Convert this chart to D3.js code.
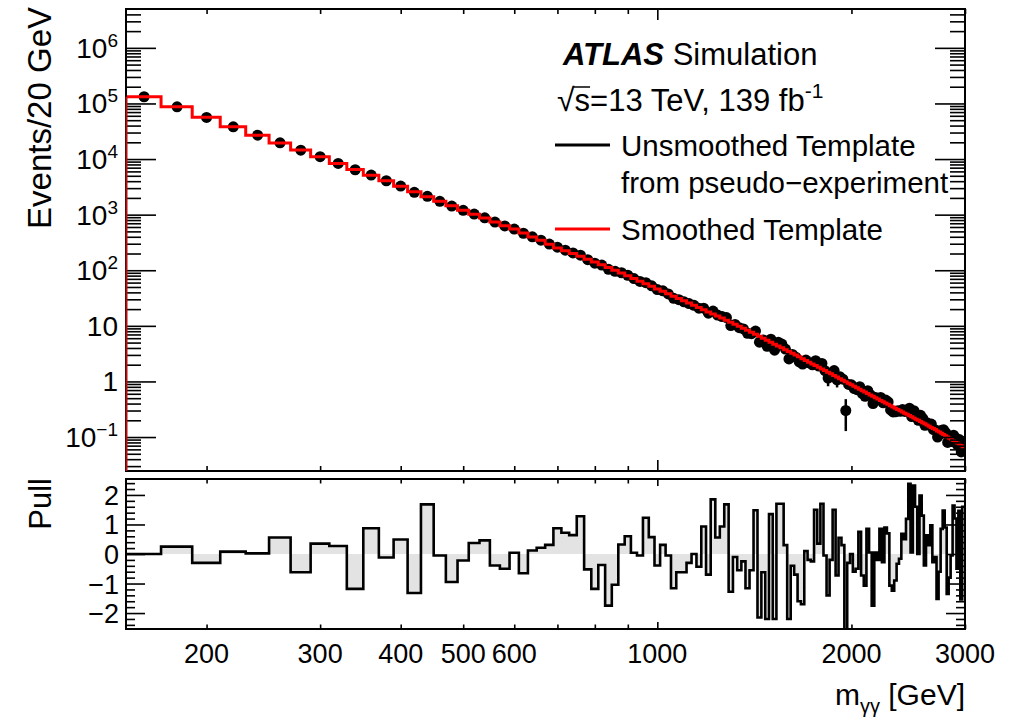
<!DOCTYPE html>
<html>
<head>
<meta charset="utf-8">
<script src="https://cdn.jsdelivr.net/npm/d3@7/dist/d3.min.js"></script>
<style>
    * { margin: 0; padding: 0; }
    body { background: #fff; }
    svg { display: block; font-family: "Liberation Sans", Arial, Helvetica, sans-serif; }
</style>
</head>
<body>
<svg id="chart" width="1018" height="717"></svg>
<script>
// lower bin edges in GeV, each bin is 20 GeV wide
var binLo = [
    150, 170, 190, 210, 230, 250, 270, 290, 310, 330,
    350, 370, 390, 410, 430, 450, 470, 490, 510, 530,
    550, 570, 590, 610, 630, 650, 670, 690, 710, 730,
    750, 770, 790, 810, 830, 850, 870, 890, 910, 930,
    950, 970, 990, 1010, 1030, 1050, 1070, 1090, 1110, 1130,
    1150, 1170, 1190, 1210, 1230, 1250, 1270, 1290, 1310, 1330,
    1350, 1370, 1390, 1410, 1430, 1450, 1470, 1490, 1510, 1530,
    1550, 1570, 1590, 1610, 1630, 1650, 1670, 1690, 1710, 1730,
    1750, 1770, 1790, 1810, 1830, 1850, 1870, 1890, 1910, 1930,
    1950, 1970, 1990, 2010, 2030, 2050, 2070, 2090, 2110, 2130,
    2150, 2170, 2190, 2210, 2230, 2250, 2270, 2290, 2310, 2330,
    2350, 2370, 2390, 2410, 2430, 2450, 2470, 2490, 2510, 2530,
    2550, 2570, 2590, 2610, 2630, 2650, 2670, 2690, 2710, 2730,
    2750, 2770, 2790, 2810, 2830, 2850, 2870, 2890, 2910, 2930,
    2950, 2970
];
var binWidth = 20;

// smoothed template, events per bin
var smoothed = [
    132000, 87100, 56200, 38000, 26900, 19500, 14500, 11000, 8320, 6460,
    5130, 4070, 3240, 2570, 2090, 1740, 1450, 1200, 1020, 871,
    741, 631, 550, 468, 398, 347, 295, 251, 224, 200,
    178, 158, 141, 126, 112, 100, 89.1, 79.4, 70.8, 63.1,
    56.9, 51.3, 46.2, 41.7, 37.6, 33.9, 30.9, 28.2, 25.7, 23.4,
    21.4, 19.5, 17.8, 16.3, 15.0, 13.8, 12.6, 11.6, 10.7, 9.79,
    9.02, 8.30, 7.64, 7.03, 6.47, 5.96, 5.50, 5.07, 4.68, 4.34,
    4.02, 3.72, 3.45, 3.21, 2.98, 2.77, 2.57, 2.39, 2.22, 2.07,
    1.93, 1.80, 1.68, 1.57, 1.46, 1.37, 1.28, 1.20, 1.12, 1.05,
    0.986, 0.927, 0.871, 0.818, 0.769, 0.724, 0.682, 0.643, 0.605, 0.571,
    0.540, 0.509, 0.482, 0.456, 0.432, 0.408, 0.387, 0.367, 0.348, 0.330,
    0.313, 0.298, 0.283, 0.269, 0.256, 0.243, 0.231, 0.220, 0.209, 0.200,
    0.190, 0.181, 0.173, 0.164, 0.157, 0.149, 0.142, 0.136, 0.129, 0.123,
    0.117, 0.111, 0.106, 0.100, 0.0955, 0.0908, 0.0863, 0.0820, 0.0780, 0.0741,
    0.0705, 0.0670
];

// unsmoothed template from the pseudo-experiment
var unsmoothed = [
    132000, 87200, 56100, 38000, 26900, 19550, 14450, 11020, 8330, 6420,
    5150, 4070, 3260, 2520, 2140, 1740, 1430, 1196, 1026, 877,
    737, 626, 550, 463, 399, 348, 296, 260, 230, 205,
    187, 155, 134, 124, 104, 95.8, 90.2, 81.3, 70.9, 63.0,
    59.7, 52.5, 45.0, 42.6, 37.5, 31.2, 29.6, 27.0, 25.2, 23.4,
    20.8, 20.8, 16.9, 18.4, 15.6, 14.7, 14.1, 10.1, 10.6, 9.25,
    8.80, 7.34, 7.22, 8.07, 5.08, 5.59, 4.29, 5.75, 3.65, 5.08,
    4.70, 3.83, 2.54, 3.06, 2.73, 2.24, 2.05, 2.42, 2.17, 1.99,
    2.36, 1.89, 2.11, 1.56, 1.15, 1.33, 1.57, 1.07, 1.21, 1.10,
    0.30, 0.885, 0.871, 0.744, 0.711, 0.805, 0.607, 0.540, 0.682, 0.575,
    0.400, 0.513, 0.468, 0.514, 0.414, 0.463, 0.428, 0.308, 0.283, 0.285,
    0.298, 0.291, 0.312, 0.289, 0.302, 0.330, 0.233, 0.297, 0.259, 0.200,
    0.246, 0.216, 0.163, 0.180, 0.164, 0.171, 0.136, 0.134, 0.100, 0.112,
    0.132, 0.135, 0.120, 0.080, 0.084, 0.090, 0.108, 0.097, 0.072, 0.090,
    0.054, 0.083
];

// visible error bars (only where they stick out of the marker)
var errBins = [1830, 1890, 1950];
var errLo = [0.82, 0.78, 0.128];
var errHi = [1.55, 1.40, 0.48];

// pull per bin
var pulls = [
    0.0, 0.25, -0.3, 0.08, 0.02, 0.56, -0.62, 0.35, 0.27, -1.18,
    0.87, -0.12, 0.49, -1.32, 1.68, -0.05, -0.95, -0.22, 0.37, 0.46,
    -0.39, -0.5, 0.04, -0.65, 0.12, 0.21, 0.31, 0.87, 0.72, 0.64,
    1.28, -0.52, -1.18, -0.37, -1.75, -1.04, 0.32, 0.6, 0.04, -0.05,
    1.23, 0.57, -0.39, 0.31, -0.05, -1.16, -0.62, -0.62, -0.3, 0.0,
    -0.43, 0.93, -0.7, 1.85, 0.56, 0.93, 1.68, -1.28, -0.1, -0.55,
    -0.25, -1.16, -0.55, 1.48, -2.15, -0.62, -2.2, 1.35, -2.2, 1.7,
    1.7, 0.3, -2.2, -0.4, -0.7, -1.6, -1.7, 0.1, -0.2, -0.25,
    1.5, 0.35, 1.7, -0.05, -1.4, -0.2, 1.5, -0.73, 0.55, 0.3,
    -2.6, -0.3, 0.0, -0.6, -0.5, 0.75, -0.73, -1.07, 0.85, 0.05,
    -1.75, 0.05, -0.2, 0.85, -0.28, 0.9, 0.7, -1.07, -1.24, -0.9,
    -0.33, -0.16, 0.68, 0.5, 1.19, 2.38, 0.05, 2.32, 1.6, 0.0,
    1.98, 1.3, -0.39, 0.63, 0.3, 0.97, -0.28, -0.1, -1.52, -0.6,
    0.85, 1.47, 0.9, -1.35, -0.8, -0.05, 1.64, 1.2, -0.5, 1.46,
    -1.54, 1.6
];

var xLabelTicks = [200, 300, 400, 500, 600, 1000, 2000, 3000];
var xMinorTicks = [200, 300, 400, 500, 600, 700, 800, 900, 2000, 3000];
var xMajorTicks = [1000];
var yDecades = [0.1, 1, 10, 100, 1000, 10000, 100000, 1000000];
var yDecadeExp = [-1, 0, 1, 2, 3, 4, 5, 6];
var pullTicks = [-2, -1, 0, 1, 2];
var pullLabels = ["\u22122", "\u22121", "0", "1", "2"];

var svg = d3.select("#chart");
var left = 126, right = 965, top1 = 9, bot1 = 471, top2 = 479, bot2 = 629;

var x = d3.scaleLog().domain([150, 3000]).range([left, right]);
var y = d3.scaleLog().domain([0.0245, 5e6]).range([bot1, top1]);
var yp = d3.scaleLinear().domain([-2.54, 2.54]).range([bot2, top2]);

var defs = svg.append("defs");
defs.append("clipPath").attr("id", "clipTop").append("rect")
    .attr("x", left).attr("y", top1).attr("width", right - left).attr("height", bot1 - top1);
defs.append("clipPath").attr("id", "clipBot").append("rect")
    .attr("x", left).attr("y", top2).attr("width", right - left).attr("height", bot2 - top2);

// ---------------- top panel ----------------
var gTop = svg.append("g").attr("clip-path", "url(#clipTop)");

// error bars
errBins.forEach(function (lo, i) {
    var xc = x(lo + binWidth / 2);
    gTop.append("line")
        .attr("x1", xc).attr("x2", xc)
        .attr("y1", y(errLo[i])).attr("y2", y(errHi[i]))
        .attr("stroke", "#000").attr("stroke-width", 2.5);
});

gTop.selectAll("circle.pt").data(unsmoothed).enter()
    .append("circle")
    .attr("class", "pt")
    .attr("cx", function (d, i) { return x(binLo[i] + binWidth / 2); })
    .attr("cy", function (d) { return y(d); })
    .attr("r", 5.5)
    .attr("fill", "#000");

var stepPath = "M" + x(binLo[0]) + "," + y(smoothed[0]);
binLo.forEach(function (lo, i) {
    stepPath += "L" + x(lo) + "," + y(smoothed[i]) + "L" + x(lo + binWidth) + "," + y(smoothed[i]);
});
gTop.append("path")
    .attr("d", stepPath)
    .attr("fill", "none")
    .attr("stroke", "#ff0000")
    .attr("stroke-width", 3);

// ---------------- pull panel ----------------
var gBot = svg.append("g").attr("clip-path", "url(#clipBot)");
var outline = "M" + x(binLo[0]) + "," + yp(pulls[0]);
binLo.forEach(function (lo, i) {
    outline += "L" + x(lo) + "," + yp(pulls[i]) + "L" + x(lo + binWidth) + "," + yp(pulls[i]);
});
var lastX = x(binLo[binLo.length - 1] + binWidth);
var fillPath = "M" + x(binLo[0]) + "," + yp(0) + outline.replace(/^M[^L]*/, "") +
    "L" + lastX + "," + yp(0) + "Z";
gBot.append("path").attr("d", fillPath).attr("fill", "#e3e3e3").attr("stroke", "none");
gBot.append("path").attr("d", outline)
    .attr("fill", "none").attr("stroke", "#000").attr("stroke-width", 2.6)
    .attr("stroke-linejoin", "miter");

// ---------------- axes ----------------
function tickAxis(axis, scale, vals, len, tx, ty) {
    var g = svg.append("g")
        .attr("transform", "translate(" + tx + "," + ty + ")")
        .call(axis(scale).tickValues(vals).tickSize(len).tickFormat(""));
    g.select(".domain").remove();
    g.selectAll("line").attr("stroke", "#000").attr("stroke-width", 1.6);
    return g;
}

// y minor ticks for the log axis
var yMinor = [];
for (var e = -2; e <= 6; e++) {
    for (var m = 2; m <= 9; m++) {
        var v = m * Math.pow(10, e);
        if (v > 0.0245 && v < 5e6) yMinor.push(v);
    }
}
var pullMinor = [];
for (var k = -12; k <= 12; k++) {
    if (k % 5 !== 0) pullMinor.push(k * 0.2);
}

// top panel
tickAxis(d3.axisTop, x, xMinorTicks, 5, 0, bot1);
tickAxis(d3.axisTop, x, xMajorTicks, 11, 0, bot1);
tickAxis(d3.axisBottom, x, xMinorTicks, 5, 0, top1);
tickAxis(d3.axisBottom, x, xMajorTicks, 11, 0, top1);
tickAxis(d3.axisRight, y, yMinor, 15, left, 0);
tickAxis(d3.axisRight, y, yDecades, 30, left, 0);
tickAxis(d3.axisLeft, y, yMinor, 15, right, 0);
tickAxis(d3.axisLeft, y, yDecades, 30, right, 0);

// pull panel
tickAxis(d3.axisTop, x, xMinorTicks, 4.5, 0, bot2);
tickAxis(d3.axisTop, x, xMajorTicks, 7, 0, bot2);
tickAxis(d3.axisBottom, x, xMinorTicks, 4.5, 0, top2);
tickAxis(d3.axisBottom, x, xMajorTicks, 7, 0, top2);
tickAxis(d3.axisRight, yp, pullMinor, 9, left, 0);
tickAxis(d3.axisRight, yp, pullTicks, 19, left, 0);
tickAxis(d3.axisLeft, yp, pullMinor, 9, right, 0);
tickAxis(d3.axisLeft, yp, pullTicks, 19, right, 0);

// frames
[[top1, bot1], [top2, bot2]].forEach(function (p) {
    svg.append("rect")
        .attr("x", left).attr("y", p[0])
        .attr("width", right - left).attr("height", p[1] - p[0])
        .attr("fill", "none").attr("stroke", "#000").attr("stroke-width", 2);
});

// the template histogram rises from the bottom of the frame along the left edge
svg.append("line")
    .attr("x1", x(binLo[0]) + 0.5).attr("x2", x(binLo[0]) + 0.5)
    .attr("y1", bot1).attr("y2", y(smoothed[0]))
    .attr("stroke", "#b01010").attr("stroke-width", 2);

// ---------------- labels ----------------
var labFs = 28;
yDecades.forEach(function (d, i) {
    var t = svg.append("text")
        .attr("x", 118).attr("y", y(d) + 10)
        .attr("text-anchor", "end")
        .attr("font-size", labFs);
    var ex = yDecadeExp[i];
    if (ex === 0) { t.text("1"); }
    else if (ex === 1) { t.text("10"); }
    else {
        t.append("tspan").text("10");
        t.append("tspan").attr("dy", -11).attr("font-size", 19)
            .text(ex < 0 ? "\u2212" + (-ex) : String(ex));
    }
});

pullTicks.forEach(function (d, i) {
    svg.append("text")
        .attr("x", 119).attr("y", yp(d) + 10)
        .attr("text-anchor", "end")
        .attr("font-size", 27)
        .text(pullLabels[i]);
});

xLabelTicks.forEach(function (d) {
    svg.append("text")
        .attr("x", x(d)).attr("y", 663)
        .attr("text-anchor", "middle")
        .attr("font-size", 27)
        .text(d);
});

// axis titles
svg.append("text")
    .attr("transform", "translate(51,7) rotate(-90)")
    .attr("text-anchor", "end")
    .attr("font-size", 33)
    .text("Events/20 GeV");

svg.append("text")
    .attr("transform", "translate(51,478) rotate(-90)")
    .attr("text-anchor", "end")
    .attr("font-size", 31)
    .text("Pull");

var xt = svg.append("text")
    .attr("x", 965).attr("y", 705)
    .attr("text-anchor", "end")
    .attr("font-size", 30);
xt.append("tspan").text("m");
xt.append("tspan").attr("dy", 8).attr("font-size", 20).text("\u03b3\u03b3");
xt.append("tspan").attr("dy", -8).text(" [GeV]");

// ---------------- legend ----------------
var atl = svg.append("text").attr("x", 563).attr("y", 65).attr("font-size", 31);
atl.append("tspan").attr("font-weight", "bold").attr("font-style", "italic").text("ATLAS");
atl.append("tspan").text(" Simulation");

var sq = svg.append("text").attr("x", 557).attr("y", 111).attr("font-size", 32).text("\u221a");
var sqW = sq.node().getComputedTextLength();
var sText = svg.append("text").attr("x", 557 + sqW).attr("y", 111).attr("font-size", 31);
sText.append("tspan").text("s=13 TeV, 139 fb");
sText.append("tspan").attr("dy", -13).attr("font-size", 21).text("-1");
var sW = svg.append("text").attr("x", -100).attr("y", -100).attr("font-size", 31).text("s");
var sLen = sW.node().getComputedTextLength();
sW.remove();
svg.append("line")
    .attr("x1", 557 + sqW - 1).attr("x2", 557 + sqW + sLen)
    .attr("y1", 87).attr("y2", 87)
    .attr("stroke", "#000").attr("stroke-width", 1.5);

var legItems = [
    { color: "#000", lines: ["Unsmoothed Template", "from pseudo\u2212experiment"], y: 145 },
    { color: "#ff0000", lines: ["Smoothed Template"], y: 229 }
];
legItems.forEach(function (it) {
    svg.append("line")
        .attr("x1", 555).attr("x2", 610)
        .attr("y1", it.y).attr("y2", it.y)
        .attr("stroke", it.color).attr("stroke-width", 3);
    it.lines.forEach(function (s, j) {
        svg.append("text")
            .attr("x", 621).attr("y", it.y + 11 + j * 37)
            .attr("font-size", 29.5)
            .text(s);
    });
});
</script>
</body>
</html>
